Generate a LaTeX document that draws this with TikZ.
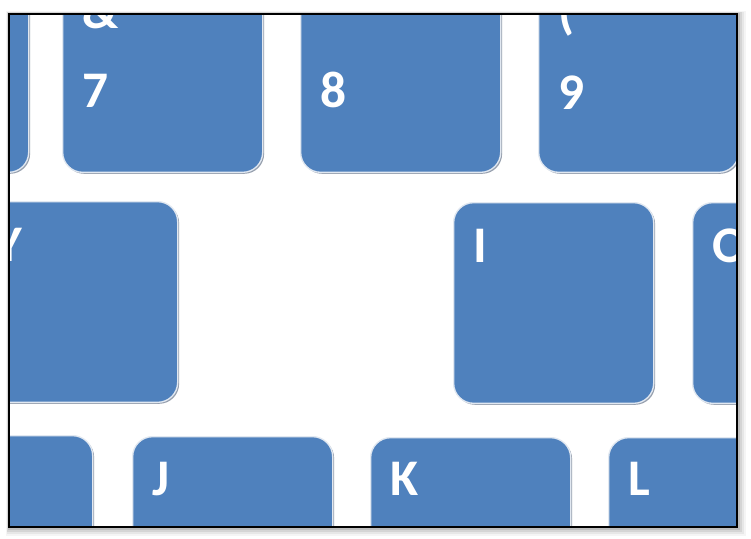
\documentclass[tikz,border=0pt]{standalone}
\usepackage{fontspec}
\setmainfont{Carlito}
\usetikzlibrary{positioning, shadows}
\definecolor{blutasto}{RGB}{79,129,189}
\definecolor{bordotasto}{RGB}{225,232,241}
\definecolor{ombratasto}{RGB}{140,150,166}
\def\cornice{(9,14) rectangle (737,527)}
\tikzset{
  tasto/.style={draw=bordotasto, line width=1pt, fill=blutasto, rounded corners=15pt,
    minimum width=150pt, minimum height=150.5pt, inner sep=0pt, anchor=north west,
    drop shadow={shadow xshift=1.1pt, shadow yshift=-1.1pt, fill=ombratasto, opacity=0.9}},
  etichetta/.style={text=white, font=\fontsize{38.5}{46}\selectfont\bfseries, inner sep=0pt, anchor=base west}
}
\begin{document}
\begin{tikzpicture}[x=0.75pt, y=-0.75pt]
    \useasboundingbox (0,0) rectangle (751,539);
    % Ombra della cornice
    \foreach \d/\o in {9/0.04, 7/0.06, 5/0.08, 3/0.1}
        \fill[black, opacity=\o] (9-\d/3,14-\d/3) rectangle (737+\d,527+\d);
    \fill[white] \cornice;
    \begin{scope}
    \clip \cornice;
    % Riga dei numeri
    \node[tasto] (k6) at (-172,-29) {};
    \node[tasto] (k7) at (62,-29) {};
    \node[tasto] (k8) at (300,-29) {};
    \node[tasto] (k9) at (538,-29) {};
    \node[etichetta] (t7a) at ([xshift=15.5pt, yshift=-42.75pt]k7.north west) {\&};
    \node[etichetta] (t7) at ([xshift=15.5pt, yshift=-102.75pt]k7.north west) {7};
    \node[etichetta] (t8) at ([xshift=15.5pt, yshift=-102.75pt]k8.north west) {8};
    \node[etichetta] (t9a) at ([xshift=15.5pt, yshift=-42.75pt]k9.north west) {(};
    \node[etichetta] (t9) at ([xshift=15.5pt, yshift=-103.75pt]k9.north west) {9};
    % Riga Y, I, O
    \node[tasto] (ky) at (-23,201) {};
    \node[tasto] (ki) at (453,202) {};
    \node[tasto] (ko) at (692,202) {};
    \node[etichetta] (ty) at ([xshift=14pt, yshift=-45pt]ky.north west) {Y};
    \node[etichetta] (ti) at ([xshift=15.5pt, yshift=-45pt]ki.north west) {I};
    \node[etichetta] (to) at ([xshift=15.5pt, yshift=-45pt]ko.north west) {O};
    % Riga H, J, K, L
    \node[tasto] (kh) at (-108,435) {};
    \node[tasto] (kj) at (132,436) {};
    \node[tasto] (kk) at (370,437) {};
    \node[tasto] (kl) at (608,437) {};
    \node[etichetta] (tj) at ([xshift=15.5pt, yshift=-44.5pt]kj.north west) {J};
    \node[etichetta] (tk) at ([xshift=15.5pt, yshift=-43.5pt]kk.north west) {K};
    \node[etichetta] (tl) at ([xshift=15.5pt, yshift=-43.5pt]kl.north west) {L};
    \end{scope}
    % Cornice
    \draw[black, line width=0.8pt] \cornice;
\end{tikzpicture}
\end{document}
